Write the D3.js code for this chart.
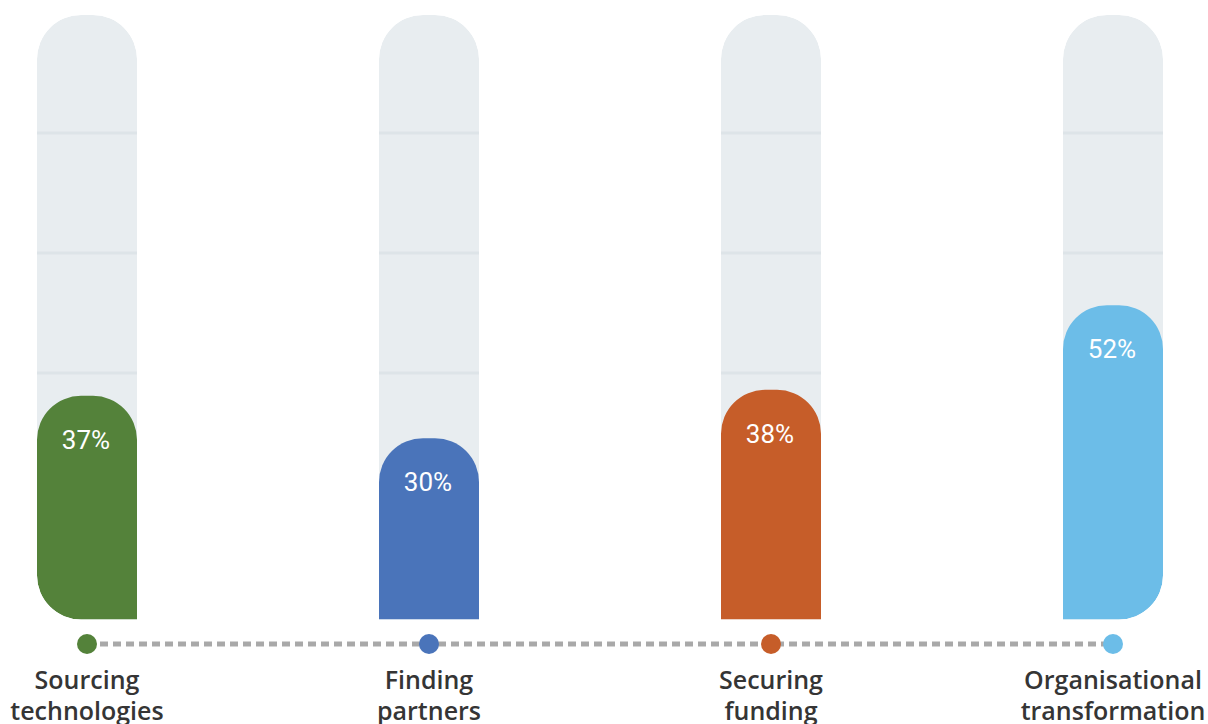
<!DOCTYPE html>
<html><head><meta charset="utf-8">
<script src="https://cdn.jsdelivr.net/npm/d3@7/dist/d3.min.js"></script>
<style>
html,body{margin:0;padding:0;background:#fff;}
svg{display:block;}
</style></head>
<body>
<svg id="chart" width="1208" height="724"></svg>
<script>
const categories = ["Sourcing technologies", "Finding partners", "Securing funding", "Organisational transformation"];
const labelLines = [["Sourcing","technologies"],["Finding","partners"],["Securing","funding"],["Organisational","transformation"]];
const values = [37, 30, 38, 52];
const colors = ["#54823a", "#4a74ba", "#c65d29", "#6cbde8"];
const gridTicks = [20, 40, 60, 80];

const svg = d3.select("#chart");
const x = d3.scalePoint().domain(categories).range([87, 1113]);
const y = d3.scaleLinear().domain([0, 100]).range([619.5, 15]);
const yGrid = d3.scaleLinear().domain([0, 100]).range([613, 13]);
const bw = 100, R = 44;

function rr(x0, y0, w, h, tl, tr, br, bl) {
  const p = d3.path();
  p.moveTo(x0 + tl, y0);
  p.lineTo(x0 + w - tr, y0);
  if (tr) p.arcTo(x0 + w, y0, x0 + w, y0 + tr, tr);
  p.lineTo(x0 + w, y0 + h - br);
  if (br) p.arcTo(x0 + w, y0 + h, x0 + w - br, y0 + h, br);
  p.lineTo(x0 + bl, y0 + h);
  if (bl) p.arcTo(x0, y0 + h, x0, y0 + h - bl, bl);
  p.lineTo(x0, y0 + tl);
  if (tl) p.arcTo(x0, y0, x0 + tl, y0, tl);
  p.closePath();
  return p.toString();
}
const n = categories.length;
const blR = i => i === 0 ? R : 0;
const brR = i => i === n - 1 ? R : 0;

const g = svg.append("g");
categories.forEach((c, i) => {
  const cx = x(c);
  const clipId = "clip" + i;
  const trackPath = rr(cx - bw/2, y(100), bw, y(0) - y(100), R, R, brR(i), blR(i));
  svg.append("clipPath").attr("id", clipId).append("path").attr("d", trackPath);
  const tg = g.append("g").attr("clip-path", `url(#${clipId})`);
  tg.append("path").attr("d", trackPath).attr("fill", "#e8edf0");
  tg.selectAll("line.grid").data(gridTicks).enter().append("line")
    .attr("x1", cx - bw/2).attr("x2", cx + bw/2)
    .attr("y1", d => yGrid(d)).attr("y2", d => yGrid(d))
    .attr("stroke", "#dde4e8").attr("stroke-width", 3);
  tg.append("path")
    .attr("d", rr(cx - bw/2, y(values[i]), bw, y(0) - y(values[i]), R, R, brR(i), blR(i)))
    .attr("fill", colors[i]);
  g.append("text")
    .attr("x", cx - 1).attr("y", y(values[i]) + 53)
    .attr("text-anchor", "middle")
    .attr("font-family", "Roboto, sans-serif")
    .attr("font-size", 26).attr("font-weight", 400)
    .attr("fill", "#fff")
    .text(values[i] + "%");
});

svg.append("line")
  .attr("x1", x(categories[0])).attr("x2", x(categories[n-1]))
  .attr("y1", 644).attr("y2", 644)
  .attr("stroke", "#a9a9a9").attr("stroke-width", 5)
  .attr("stroke-dasharray", "8,5");
svg.selectAll("circle.dot").data(categories).enter().append("circle")
  .attr("cx", d => x(d)).attr("cy", 644).attr("r", 10)
  .attr("fill", (d, i) => colors[i]);

categories.forEach((c, i) => {
  const t = svg.append("text")
    .attr("text-anchor", "middle")
    .attr("font-family", "'Open Sans', sans-serif")
    .attr("font-size", 25).attr("font-weight", 600)
    .attr("fill", "#353535");
  labelLines[i].forEach((ln, j) => {
    t.append("tspan").attr("x", x(c)).attr("y", 689 + j * 31).text(ln);
  });
});
</script>
</body></html>
